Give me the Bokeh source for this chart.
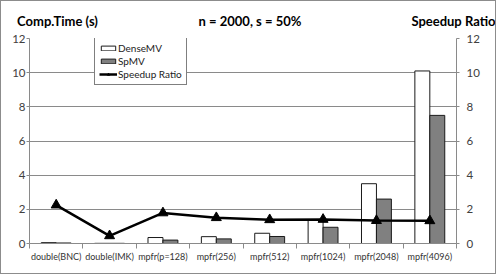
from bokeh.plotting import figure
from bokeh.models import (Range1d, LinearAxis, FixedTicker, Legend, LegendItem)
from bokeh.embed import file_html
from bokeh.resources import INLINE

categories = ["double(BNC)", "double(IMK)", "mpfr(p=128)", "mpfr(256)",
              "mpfr(512)", "mpfr(1024)", "mpfr(2048)", "mpfr(4096)"]
dense_mv = [0.05, 0.01, 0.35, 0.40, 0.60, 1.40, 3.50, 10.10]
spmv = [0.03, 0.01, 0.20, 0.27, 0.41, 0.95, 2.60, 7.50]
speedup = [2.25, 0.45, 1.79, 1.51, 1.39, 1.41, 1.34, 1.33]
y_ticks = [0, 2, 4, 6, 8, 10, 12]
title_text = "n = 2000, s = 50%"
left_title = "Comp.Time (s)"
right_title = "Speedup Ratio"

FONT = "Lato"
TXT = "#404040"
GRID = "#8a8a8a"

n = len(categories)
centers = [i + 0.5 for i in range(n)]
bw = 0.28
x_dense = [c - bw / 2 for c in centers]
x_sp = [c + bw / 2 for c in centers]

p = figure(width=496, height=274, output_backend="svg", toolbar_location=None,
           x_range=Range1d(0, n), y_range=Range1d(0, 12),
           min_border_left=28, min_border_right=41, min_border_top=37, min_border_bottom=32)
p.outline_line_color = None
p.background_fill_color = "white"
p.border_fill_color = "white"
p.extra_y_ranges = {"r": Range1d(0, 12)}

p.xgrid.grid_line_color = None
p.ygrid.grid_line_color = GRID
p.ygrid.grid_line_width = 1
p.ygrid.ticker = FixedTicker(ticks=y_ticks[1:])

xa = p.xaxis[0]
xa.ticker = FixedTicker(ticks=centers, minor_ticks=list(range(n + 1)))
xa.major_label_overrides = {c: lab for c, lab in zip(centers, categories)}
xa.major_tick_line_color = None
xa.minor_tick_line_color = GRID
xa.minor_tick_out = 5
xa.minor_tick_in = 0
xa.axis_line_color = GRID
xa.major_label_text_font = FONT
xa.major_label_text_font_size = "9px"
xa.major_label_text_color = "#333333"
xa.major_label_standoff = 1

ya = p.yaxis[0]
ya.ticker = FixedTicker(ticks=y_ticks)
ya.minor_tick_line_color = None
ya.major_tick_line_color = GRID
ya.major_tick_out = 3
ya.major_tick_in = 0
ya.axis_line_color = GRID
ya.major_label_text_font = FONT
ya.major_label_text_font_size = "11.5px"
ya.major_label_text_color = TXT
ya.major_label_standoff = 1

ra = LinearAxis(y_range_name="r", ticker=FixedTicker(ticks=y_ticks))
ra.minor_tick_line_color = None
ra.major_tick_line_color = GRID
ra.major_tick_out = 3
ra.major_tick_in = 0
ra.axis_line_color = GRID
ra.major_label_text_font = FONT
ra.major_label_text_font_size = "11.5px"
ra.major_label_text_color = TXT
ra.major_label_standoff = 7
p.add_layout(ra, "right")

# header texts carried by an axis above the frame
px_x = 427 / n
hdr_pos = [(57 - 29) / px_x, (249.5 - 29) / px_x, (453 - 29) / px_x]
ta = LinearAxis(ticker=FixedTicker(ticks=hdr_pos, minor_ticks=[]))
ta.major_label_overrides = {hdr_pos[0]: left_title, hdr_pos[1]: title_text,
                            hdr_pos[2]: right_title}
ta.axis_line_color = None
ta.major_tick_line_color = None
ta.minor_tick_line_color = None
ta.major_label_text_font = FONT
ta.major_label_text_font_style = "bold"
ta.major_label_text_font_size = "13px"
ta.major_label_text_color = "black"
ta.major_label_standoff = 4
p.add_layout(ta, "above")

r_dense = p.vbar(x=x_dense, top=dense_mv, bottom=0, width=bw,
                 fill_color="white", line_color="#1a1a1a", line_width=1)
r_sp = p.vbar(x=x_sp, top=spmv, bottom=0, width=bw,
              fill_color="#808080", line_color="#1a1a1a", line_width=1)
r_line = p.line(x=centers, y=speedup, y_range_name="r", line_color="black", line_width=2.5)
r_mark = p.scatter(x=centers, y=speedup, y_range_name="r", marker="triangle",
                   size=10, fill_color="black", line_color="black")

legend = Legend(items=[LegendItem(label="DenseMV", renderers=[r_dense]),
                       LegendItem(label="SpMV", renderers=[r_sp]),
                       LegendItem(label="Speedup Ratio", renderers=[r_line, r_mark])],
                location=(65, 158), orientation="vertical")
legend.border_line_color = "black"
legend.border_line_width = 1
legend.background_fill_alpha = 1
legend.padding = 4
legend.spacing = 1
legend.margin = 0
legend.glyph_width = 18
legend.glyph_height = 6
legend.label_height = 12
legend.label_standoff = 1
legend.label_text_font = FONT
legend.label_text_font_size = "10px"
legend.label_text_color = "#222222"
legend.label_text_baseline = "middle"
p.add_layout(legend, "center")

p.styles = {"border": "1px solid #8c8c8c"}

open("out.html", "w").write(file_html(p, INLINE))
